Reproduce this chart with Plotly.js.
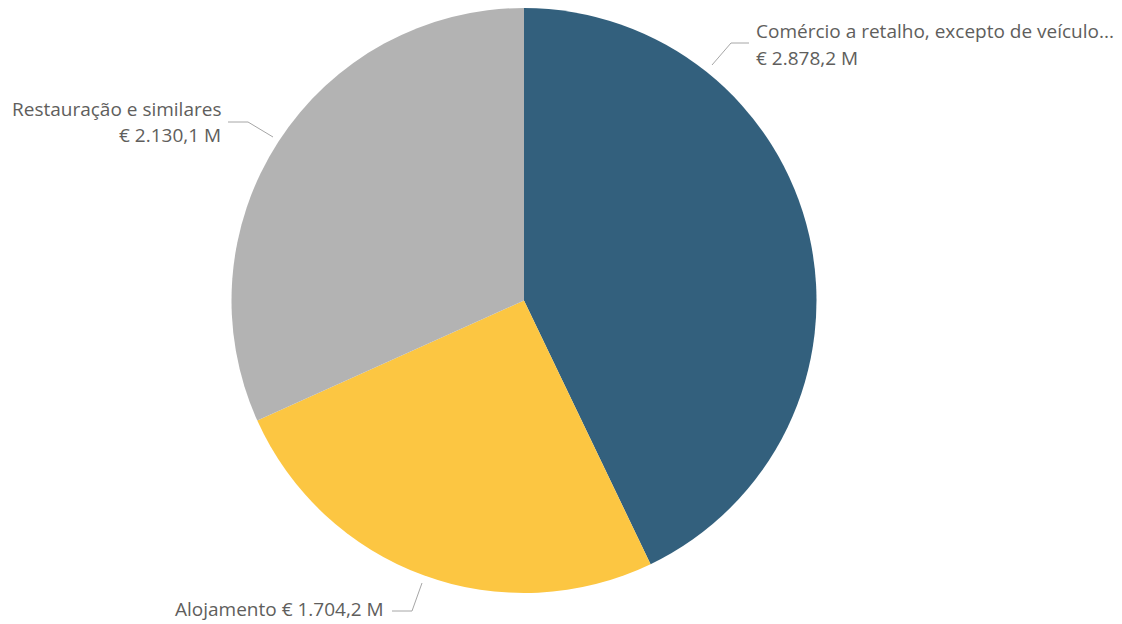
<!DOCTYPE html>
<html>
<head>
<meta charset="utf-8">
<script src="https://cdn.plot.ly/plotly-3.0.1.min.js"></script>
<style>html,body{margin:0;padding:0;background:#fff;}#chart{width:1122px;height:624px;}</style>
</head>
<body>
<div id="chart"></div>
<script>
// Data
const categories = ["Comércio a retalho, excepto de veículo...", "Alojamento", "Restauração e similares"];
const values = [2878.2, 1704.2, 2130.1];  // € M
const colors = ["#33607D", "#FCC642", "#B3B3B3"];

const W = 1122, H = 624;
const px = x => x / W;
const py = y => 1 - y / H;

function fmt(v) {
  const parts = v.toFixed(1).split(".");
  const intPart = parts[0].replace(/\B(?=(\d{3})+(?!\d))/g, ".");
  return "€ " + intPart + "," + parts[1] + " M";
}

const trace = {
  type: "pie",
  labels: categories,
  values: values,
  sort: false,
  direction: "clockwise",
  rotation: 0,
  marker: { colors: colors, line: { width: 0 } },
  textinfo: "none",
  hoverinfo: "none",
  showlegend: false,
  domain: { x: [(524 - 292.5) / W, (524 + 292.5) / W], y: [py(593), py(8)] }
};

const font = { family: "Open Sans, Noto Sans, sans-serif", size: 19, color: "#605E5C" };
const lineStyle = { color: "#A6A6A6", width: 1 };

function ann(text, x, y, xanchor) {
  return { text: text, x: px(x), y: py(y), xref: "paper", yref: "paper",
           xanchor: xanchor, yanchor: "middle", showarrow: false, font: font };
}
function path(pts) {
  let d = "M" + px(pts[0][0]) + "," + py(pts[0][1]);
  for (let i = 1; i < pts.length; i++) d += " L" + px(pts[i][0]) + "," + py(pts[i][1]);
  return { type: "path", xref: "paper", yref: "paper", path: d, line: lineStyle };
}

const layout = {
  width: W, height: H,
  margin: { l: 0, r: 0, t: 0, b: 0 },
  paper_bgcolor: "#ffffff",
  annotations: [
    ann(categories[0], 754, 31, "left"),
    ann(fmt(values[0]), 754, 58, "left"),
    ann(categories[2], 223, 109, "right"),
    ann(fmt(values[2]), 223, 135, "right"),
    ann(categories[1] + " " + fmt(values[1]), 386, 609, "right")
  ],
  shapes: [
    path([[712, 65], [731, 43], [749, 43]]),
    path([[228, 122], [248, 122], [273, 137]]),
    path([[392, 611], [412, 611], [422, 583]])
  ]
};

Plotly.newPlot("chart", [trace], layout, { displayModeBar: false, staticPlot: true });
</script>
</body>
</html>
